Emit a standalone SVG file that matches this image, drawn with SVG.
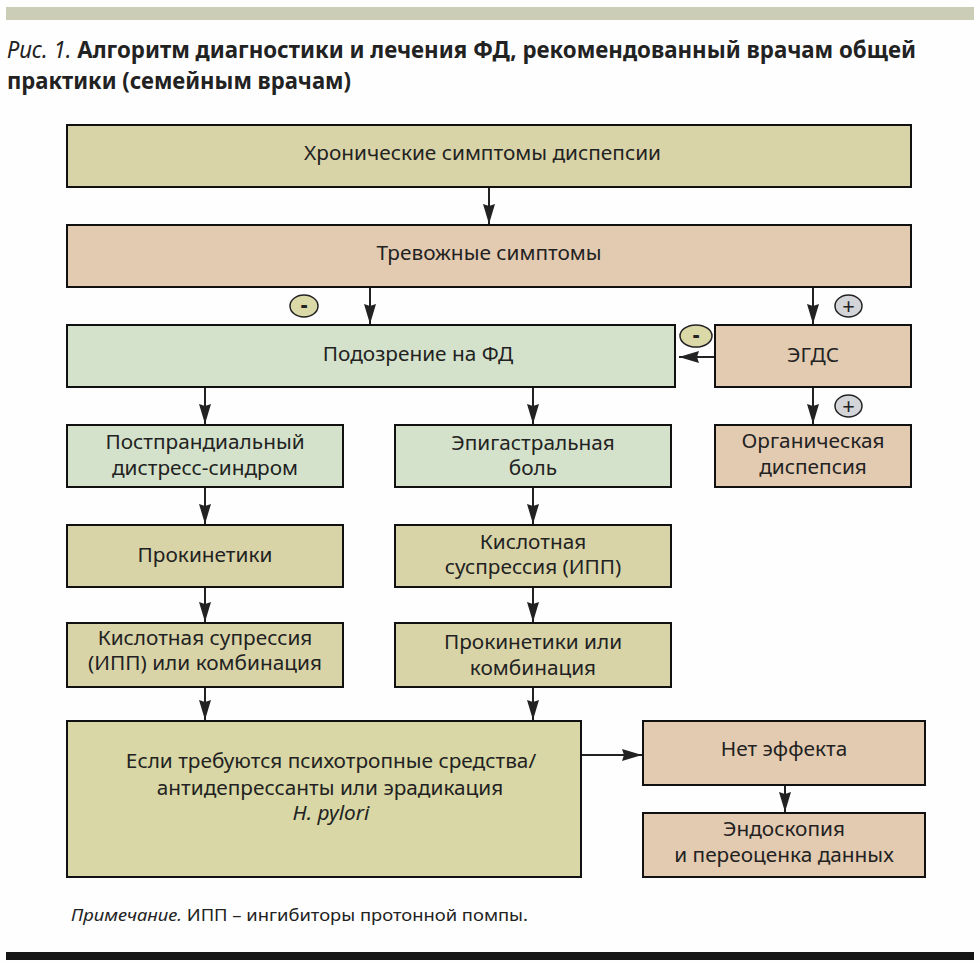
<svg xmlns="http://www.w3.org/2000/svg" width="980" height="962" viewBox="0 0 980 962">
<defs>
<marker id="arr" markerUnits="userSpaceOnUse" markerWidth="20" markerHeight="14" refX="20" refY="7" orient="auto"><path d="M0 1 L20 7 L0 13 L2 7 Z" fill="#222"/></marker>
</defs>
<style>
text{font-family:"Noto Sans","Open Sans","Liberation Sans",sans-serif;fill:#222;font-size:20.8px;text-anchor:middle}
.box{stroke:#111;stroke-width:2}
.y{fill:#d9d4a8}.p{fill:#e2cbb1}.g{fill:#d5e2cb}.o{fill:#d8d7a5}
.cn line{stroke:#222;stroke-width:2;marker-end:url(#arr)}
.head{font-size:24px;font-weight:700;text-anchor:start}
.minus{font-weight:800;font-size:21px}
.plus{font-weight:400;font-size:22px}
.note{font-size:17px;text-anchor:start}
</style>
<rect width="980" height="962" fill="#fefefe"/>
<rect x="6" y="7" width="968" height="13" fill="#cccdb6"/>
<rect x="6" y="952" width="968" height="8" fill="#161616"/>
<text class="head" x="7" y="58" textLength="909" lengthAdjust="spacingAndGlyphs"><tspan font-style="italic" font-weight="400">Рис. 1. </tspan>Алгоритм диагностики и лечения ФД, рекомендованный врачам общей</text>
<text class="head" x="7" y="89" textLength="344" lengthAdjust="spacingAndGlyphs">практики (семейным врачам)</text>
<g class="cn" id="connectors">
<line x1="489" y1="187" x2="489" y2="224"/>
<line x1="370" y1="287" x2="370" y2="324"/>
<line x1="813" y1="287" x2="813" y2="324"/>
<line x1="715" y1="357" x2="679" y2="357"/>
<line x1="813" y1="387" x2="813" y2="424"/>
<line x1="205" y1="387" x2="205" y2="424"/>
<line x1="533" y1="387" x2="533" y2="424"/>
<line x1="205" y1="487" x2="205" y2="524"/>
<line x1="533" y1="487" x2="533" y2="524"/>
<line x1="205" y1="587" x2="205" y2="622"/>
<line x1="533" y1="587" x2="533" y2="622"/>
<line x1="205" y1="687" x2="205" y2="720"/>
<line x1="533" y1="687" x2="533" y2="720"/>
<line x1="581" y1="755" x2="642" y2="755"/>
<line x1="785" y1="785" x2="785" y2="812"/>
</g>
<g id="n-chronic"><rect class="box y" x="67" y="125" width="844" height="62"/><text x="482.500" y="160">Хронические симптомы диспепсии</text></g>
<g id="n-alarm"><rect class="box p" x="67" y="225" width="844" height="62"/><text x="489" y="260">Тревожные симптомы</text></g>
<g id="n-suspect"><rect class="box g" x="67" y="325" width="608" height="62"/><text x="418" y="361">Подозрение на ФД</text></g>
<g id="n-egds"><rect class="box p" x="715" y="325" width="196" height="62"/><text x="813" y="362">ЭГДС</text></g>
<g id="n-pds"><rect class="box g" x="67" y="425" width="276" height="62"/><text x="205" y="449">Постпрандиальный</text><text x="205" y="475">дистресс-синдром</text></g>
<g id="n-epi"><rect class="box g" x="395" y="425" width="276" height="62"/><text x="533" y="450">Эпигастральная</text><text x="533" y="475">боль</text></g>
<g id="n-org"><rect class="box p" x="715" y="425" width="196" height="62"/><text x="813" y="448">Органическая</text><text x="813" y="474">диспепсия</text></g>
<g id="n-pro1"><rect class="box y" x="67" y="525" width="276" height="62"/><text x="205" y="562">Прокинетики</text></g>
<g id="n-acid1"><rect class="box y" x="395" y="525" width="276" height="62"/><text x="533" y="549">Кислотная</text><text x="533" y="574">суспрессия (ИПП)</text></g>
<g id="n-acid2"><rect class="box y" x="67" y="623" width="276" height="64"/><text x="205" y="645">Кислотная супрессия</text><text x="205" y="670">(ИПП) или комбинация</text></g>
<g id="n-pro2"><rect class="box y" x="395" y="623" width="276" height="64"/><text x="533" y="649">Прокинетики или</text><text x="533" y="675">комбинация</text></g>
<g id="n-psych"><rect class="box o" x="67" y="721" width="514" height="156"/><text x="331" y="768">Если требуются психотропные средства/</text><text x="330" y="795">антидепрессанты или эрадикация</text><text x="331" y="820" font-style="italic">H. pylori</text></g>
<g id="n-noeff"><rect class="box p" x="643" y="721" width="282" height="64"/><text x="784" y="756">Нет эффекта</text></g>
<g id="n-endo"><rect class="box p" x="643" y="813" width="282" height="64"/><text x="784" y="836">Эндоскопия</text><text x="784" y="862">и переоценка данных</text></g>
<g id="s-minus1"><ellipse cx="304" cy="306" rx="14" ry="11" fill="#dcd9a8" stroke="#222" stroke-width="1.5"/><text class="minus" x="304" y="312">-</text></g>
<g id="s-plus1"><ellipse cx="848.500" cy="306" rx="13.500" ry="11" fill="#d4d5d8" stroke="#222" stroke-width="1.5"/><text class="plus" x="848.500" y="313.500">+</text></g>
<g id="s-minus2"><ellipse cx="696" cy="336" rx="16" ry="11" fill="#dcd9a8" stroke="#222" stroke-width="1.500"/><text class="minus" x="696" y="342">-</text></g>
<g id="s-plus2"><ellipse cx="848.500" cy="406" rx="13.500" ry="11" fill="#d4d5d8" stroke="#222" stroke-width="1.5"/><text class="plus" x="848.500" y="413.500">+</text></g>
<text class="note" x="71" y="921" textLength="457" lengthAdjust="spacingAndGlyphs"><tspan font-style="italic">Примечание.</tspan> ИПП – ингибиторы протонной помпы.</text>
</svg>
